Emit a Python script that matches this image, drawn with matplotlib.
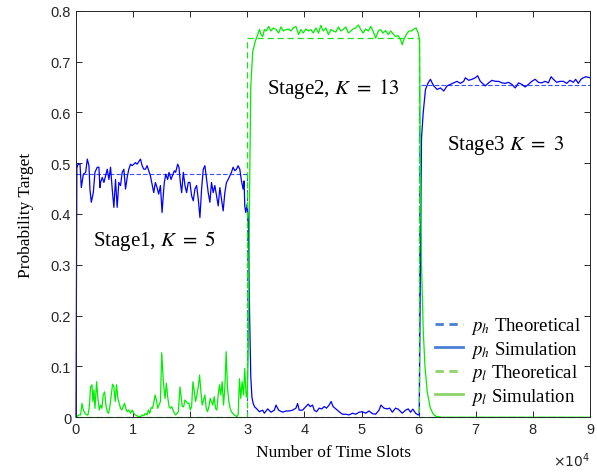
import matplotlib
matplotlib.use("Agg")
import matplotlib.pyplot as plt
from matplotlib.lines import Line2D
import numpy as np

plt.rcParams['font.family'] = ['Liberation Serif', 'DejaVu Serif']
plt.rcParams['mathtext.fontset'] = 'stix'

# p_h simulation (time slot, probability)
t_ph = [0, 150, 350, 700, 930, 1280, 1690, 1980, 2270, 2440, 2680, 3030, 3320, 3720, 4010, 4190,
        4300, 4600, 4890, 5180, 5470, 5760, 6050, 6340, 6630, 6920, 7210, 7500, 7800, 8090, 8380,
        8670, 8960, 9250, 9540, 9830, 10120, 10410, 10700, 11290, 11580, 11870, 12160, 12450,
        13030, 13610, 13900, 14190, 14480, 14780, 15070, 15360, 15470, 15710, 16050, 16290,
        16640, 16870, 17220, 17450, 17800, 18030, 18270, 18500, 18790, 19080, 19370, 19660,
        19950, 20240, 20530, 20820, 21120, 21410, 21700, 21990, 22280, 22570, 22860, 23150,
        23440, 23730, 24020, 24310, 24610, 24900, 25190, 25480, 25770, 26060, 26350, 26640,
        26930, 27220, 27510, 27810, 28100, 28390, 28680, 28970, 29260, 29430, 29550, 29720,
        30000, 30200, 30400, 30600, 30800, 31000, 31300,
        31530, 32110, 32690, 32980, 33560, 34140, 34730, 35020, 35480, 36180, 36760, 37340,
        37930, 38510, 38800, 39090, 39670, 40250, 40660, 41010, 41420, 41710, 42110, 42580,
        43040, 43450, 43860, 44320, 44670, 45020, 45490, 46070, 46650, 47230, 47810, 48400,
        48980, 49560, 50140, 50720, 51300, 51890, 52470, 53050, 53400, 53920, 54500, 54910,
        55380, 55960, 56420, 57120, 57700, 58170, 58580, 58980, 59450, 59910,
        60100, 60300, 60500, 60800, 61190, 61660, 62060, 62350, 62640,
        63230, 63810, 64390, 64970, 65550, 66140, 66720, 67300, 67880, 68170, 68750, 69340,
        69920, 70320, 70790, 71370, 71660, 72240, 72830, 73410, 73990, 74570, 75150, 75730,
        76320, 76900, 77480, 78060, 78640, 79220, 79810, 80390, 80970, 81550, 82130, 82710,
        83180, 83590, 84170, 84750, 85330, 85910, 86500, 87080, 87480, 87950, 88420, 88820,
        89290, 90000]
ph_sim = [0.0, 0.49, 0.498, 0.498, 0.452, 0.478, 0.482, 0.508, 0.495, 0.449, 0.423, 0.442, 0.482,
          0.492, 0.492, 0.452, 0.462, 0.472, 0.462, 0.475, 0.488, 0.468, 0.492, 0.449, 0.413,
          0.468, 0.413, 0.462, 0.456, 0.482, 0.488, 0.449, 0.472, 0.488, 0.498, 0.495, 0.498,
          0.501, 0.498, 0.508, 0.495, 0.488, 0.488, 0.495, 0.475, 0.442, 0.462, 0.452, 0.439,
          0.456, 0.403, 0.449, 0.462, 0.478, 0.468, 0.482, 0.468, 0.475, 0.485, 0.482, 0.498,
          0.492, 0.462, 0.442, 0.482, 0.456, 0.442, 0.462, 0.462, 0.436, 0.426, 0.449, 0.456,
          0.429, 0.393, 0.449, 0.488, 0.495, 0.468, 0.442, 0.423, 0.462, 0.442, 0.456, 0.436,
          0.416, 0.452, 0.429, 0.406, 0.442, 0.462, 0.468, 0.475, 0.482, 0.492, 0.485, 0.488,
          0.495, 0.488, 0.465, 0.449, 0.465, 0.416, 0.403,
          0.42, 0.38, 0.2, 0.08, 0.04, 0.028, 0.02,
          0.018, 0.011, 0.014, 0.008, 0.0165, 0.010, 0.014, 0.024, 0.014, 0.010, 0.0124, 0.0124,
          0.014, 0.018, 0.027, 0.014, 0.014, 0.021, 0.026, 0.021, 0.024, 0.014, 0.011, 0.018,
          0.0165, 0.021, 0.018, 0.024, 0.031, 0.021, 0.0165, 0.011, 0.006, 0.006, 0.0046, 0.008,
          0.006, 0.010, 0.011, 0.008, 0.0124, 0.0072, 0.006, 0.014, 0.024, 0.018, 0.0165, 0.018,
          0.010, 0.018, 0.016, 0.008, 0.014, 0.0165, 0.010, 0.016, 0.008, 0.0046,
          0.005, 0.3, 0.55, 0.6, 0.645, 0.658, 0.665, 0.658, 0.652,
          0.645, 0.648, 0.642, 0.652, 0.655, 0.658, 0.661, 0.657, 0.661, 0.668, 0.663, 0.665,
          0.668, 0.672, 0.661, 0.655, 0.652, 0.658, 0.663, 0.661, 0.661, 0.658, 0.657, 0.659,
          0.655, 0.648, 0.658, 0.655, 0.650, 0.655, 0.661, 0.665, 0.659, 0.658, 0.661, 0.658,
          0.670, 0.665, 0.659, 0.661, 0.661, 0.657, 0.663, 0.659, 0.665, 0.657, 0.665, 0.668,
          0.670, 0.668]

# p_l simulation (time slot, probability)
t_pl = [0, 120, 520, 810, 1050, 1280, 1570, 1860, 2090, 2330, 2560, 2790, 2970, 3140, 3320,
        3610, 3840, 4070, 4300, 4540, 4770, 5000, 5240, 5470, 5700, 5930, 6170, 6400, 6630,
        6860, 7100, 7330, 7560, 7800, 8030, 8260, 8490, 8730, 8960, 9250, 9540, 9830, 10120,
        10410, 10700, 10990, 11290, 11580, 11870, 12160, 12450, 12680, 12910, 13150, 13380,
        13610, 13840, 14080, 14310, 14540, 14780, 15010, 15300, 15590, 15820, 16050, 16290,
        16520, 16750, 16990, 17220, 17450, 17680, 17920, 18210, 18380, 18610, 18850, 19080,
        19310, 19540, 19780, 20010, 20240, 20480, 20710, 20940, 21170, 21410, 21640, 21870,
        22100, 22340, 22570, 22800, 23030, 23270, 23500, 23730, 23970, 24200, 24430, 24660,
        24900, 25130, 25360, 25590, 25830, 26060, 26290, 26530, 26760, 26990, 27220, 27460,
        27690, 27920, 28150, 28390, 28620, 28850, 29080, 29320, 29550, 29800, 30000,
        30200, 30400, 30600, 30950, 31400, 31820, 32110,
        32400, 32690, 32980, 33270, 33740, 34140, 34550, 35020, 35480, 35890, 36300, 36760,
        37230, 37630, 38040, 38510, 38970, 39380, 39790, 40250, 40720, 41130, 41530, 42000,
        42460, 42870, 43280, 43740, 44210, 44620, 45020, 45490, 45950, 46360, 46770, 47230,
        47700, 48110, 48510, 48980, 49440, 49850, 50260, 50720, 51190, 51600, 52000, 52470,
        52930, 53340, 53750, 54210, 54680, 55090, 55490, 55960, 56420, 56830, 57120, 57410,
        57820, 58290, 58750, 59160, 59560, 59910, 60150,
        60300, 60500, 60800, 61100, 61500, 62000, 62500, 63000, 64000, 90000]
pl_sim = [0.0, 0.001, 0.0046, 0.0046, 0.0275, 0.0144, 0.0078, 0.0046, 0.0046, 0.0209, 0.060,
          0.064, 0.031, 0.054, 0.0176, 0.070, 0.037, 0.0144, 0.024, 0.0176, 0.044, 0.050, 0.024,
          0.011, 0.0078, 0.0209, 0.044, 0.065, 0.060, 0.031, 0.064, 0.037, 0.0275, 0.0176,
          0.0144, 0.0209, 0.0275, 0.0176, 0.011, 0.0144, 0.0078, 0.0144, 0.0078, 0.0046, 0.003,
          0.0013, 0.0013, 0.0046, 0.003, 0.0078, 0.0046, 0.0144, 0.0078, 0.019, 0.0176, 0.0275,
          0.044, 0.034, 0.0176, 0.024, 0.031, 0.127, 0.070, 0.037, 0.067, 0.0405, 0.0209,
          0.0176, 0.0209, 0.0144, 0.0078, 0.0046, 0.0078, 0.011, 0.060, 0.044, 0.0209, 0.0209,
          0.034, 0.031, 0.0275, 0.0275, 0.0144, 0.0209, 0.070, 0.050, 0.031, 0.044, 0.060,
          0.083, 0.050, 0.024, 0.034, 0.044, 0.0176, 0.011, 0.0209, 0.037, 0.031, 0.024,
          0.0405, 0.0176, 0.0144, 0.044, 0.064, 0.044, 0.070, 0.024, 0.057, 0.129, 0.057,
          0.031, 0.0176, 0.011, 0.0078, 0.0046, 0.003, 0.0013, 0.0046, 0.076, 0.037, 0.070,
          0.044, 0.096, 0.04, 0.05,
          0.15, 0.45, 0.65, 0.72, 0.74, 0.753, 0.763,
          0.753, 0.749, 0.763, 0.760, 0.769, 0.760, 0.766, 0.763, 0.756, 0.768, 0.760, 0.763,
          0.764, 0.760, 0.766, 0.769, 0.753, 0.763, 0.756, 0.764, 0.760, 0.763, 0.756, 0.766,
          0.756, 0.771, 0.760, 0.766, 0.753, 0.763, 0.760, 0.758, 0.768, 0.760, 0.763, 0.768,
          0.756, 0.760, 0.764, 0.766, 0.772, 0.763, 0.756, 0.764, 0.760, 0.769, 0.760, 0.746,
          0.760, 0.763, 0.756, 0.761, 0.753, 0.760, 0.755, 0.749, 0.751, 0.743, 0.733, 0.743,
          0.753, 0.760, 0.760, 0.764, 0.766, 0.756, 0.743,
          0.5, 0.3, 0.17, 0.1, 0.05, 0.02, 0.007, 0.002, 0.0, 0.0]

# theoretical values per stage
stage_edges = [0, 30000, 60000, 90000]
ph_theory = [0.478, 0.0, 0.653]
pl_theory = [0.0, 0.746, 0.0]

def steps(edges, vals):
    xs, ys = [], []
    for i, v in enumerate(vals):
        xs += [edges[i], edges[i + 1]]
        ys += [v, v]
    return xs, ys

fig = plt.figure(figsize=(5.97, 4.77), dpi=100)
ax = fig.add_axes([0.1273, 0.1231, 0.861, 0.8524])

tx, ty = steps(stage_edges, ph_theory)
ax.plot(tx, ty, color='#3a4cff', lw=0.8, dashes=(4, 2), clip_on=False)
ax.plot(t_ph, ph_sim, color='#0000ff', lw=0.9, clip_on=False)
tx, ty = steps(stage_edges, pl_theory)
ax.plot(tx, ty, color='#22dd22', lw=0.9, dashes=(5, 3), clip_on=False)
ax.plot(t_pl, pl_sim, color='#00ee00', lw=0.9, clip_on=False)

ax.set_xlim(0, 90000)
ax.set_ylim(0, 0.8)
ax.set_xticks(np.arange(0, 90001, 10000))
ax.set_xticklabels([str(i) for i in range(10)])
ax.set_yticks(np.arange(0, 0.81, 0.1))
ax.set_yticklabels(['0'] + ['%.1f' % v for v in np.arange(0.1, 0.81, 0.1)])
ax.tick_params(direction='in', top=True, right=True, length=4, width=0.7,
               labelsize=10.5, colors='#262626')
for lab in ax.get_xticklabels() + ax.get_yticklabels():
    lab.set_family('Liberation Sans')
for s in ax.spines.values():
    s.set_linewidth(0.7)
    s.set_color('#262626')

ax.set_xlabel('Number of Time Slots', fontsize=12.5, labelpad=6)
ax.set_ylabel('Probability Target', fontsize=12.5, labelpad=12)
ax.text(1.0, -0.105, r'$\times10^{4}$', transform=ax.transAxes, ha='right', va='center',
        fontsize=10, color='#262626', family='Liberation Sans', math_fontfamily='dejavusans')

ax.text(3000, 0.349, r'Stage1, $K\ =\ 5$', fontsize=15, va='center')
ax.text(33500, 0.647, r'Stage2, $K\ =\ 13$', fontsize=15, va='center')
ax.text(64900, 0.537, r'Stage3 $K\ =\ 3$', fontsize=15, va='center')

handles = [Line2D([], [], color='#4a7fd6', lw=2, dashes=(3, 2)),
           Line2D([], [], color='#4a7fd6', lw=2),
           Line2D([], [], color='#8fd36a', lw=2, dashes=(3, 2)),
           Line2D([], [], color='#8fd36a', lw=2)]
labels = [r'$p_h$ Theoretical', r'$p_h$ Simulation', r'$p_l$ Theoretical', r'$p_l$ Simulation']
ax.legend(handles, labels, loc='lower right', bbox_to_anchor=(1.015, -0.015), frameon=False,
          fontsize=13.5, handlelength=1.5, handletextpad=0.4, labelspacing=0.13)

fig.savefig('out.png', dpi=100)
